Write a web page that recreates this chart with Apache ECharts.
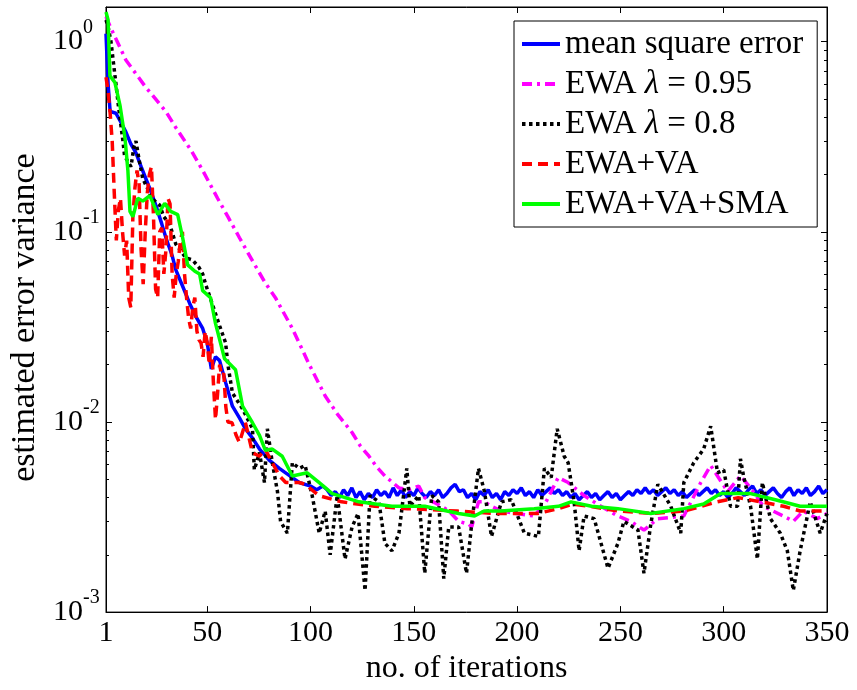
<!DOCTYPE html>
<html><head><meta charset="utf-8">
<script src="https://cdn.jsdelivr.net/npm/echarts@6/dist/echarts.min.js"></script>
<style>html,body{margin:0;padding:0;background:#fff}#c{width:857px;height:690px}</style>
</head><body><div id="c"></div>
<script>
const seriesNames = ['mean square error', 'EWA λ = 0.95', 'EWA λ = 0.8', 'EWA+VA', 'EWA+VA+SMA'];
const xTicks = [1, 50, 100, 150, 200, 250, 300, 350];
const yMajor = [0.001, 0.01, 0.1, 1];
const yMinor = [0.002,0.003,0.004,0.005,0.006,0.007,0.008,0.009,
                0.02,0.03,0.04,0.05,0.06,0.07,0.08,0.09,
                0.2,0.3,0.4,0.5,0.6,0.7,0.8,0.9];

const mse = [[1,1.1],[2,0.6],[3,0.43],[5.8,0.42],[8,0.38],[10.6,0.335],[13,0.29],[15.5,0.26],[18,0.22],[20.3,0.19],[23,0.16],[25.1,0.138],[28,0.11],[30,0.093],[33,0.075],[34.8,0.063],[38,0.052],[41.5,0.042],[45,0.035],[47.8,0.031],[50,0.026],[52,0.019],[54,0.022],[56,0.021],[59,0.016],[62.2,0.0121],[65.6,0.0105],[68.5,0.0092],[72,0.0082],[75.3,0.0072],[80,0.0063],[84.9,0.0057],[90,0.0052],[94.5,0.0048],[100,0.0046],[103,0.0044],[106,0.0046],
[108,0.0044],[110,0.0041],[112,0.0043],[114,0.0040],[116,0.0044],[118,0.0041],[120,0.0045],[122,0.0040],[124,0.0043],[126,0.0039],[128,0.0042],[130,0.0040],[132,0.0044],[134,0.0041],[136,0.0043],[138,0.0040],[140,0.0045],[142,0.0041],[144,0.0044],[146,0.0040],[148,0.0043],[150,0.0041],[152,0.0045],[154,0.0042],[156,0.0040],[158,0.0043],[160,0.0041],[162,0.0044],[164,0.0040],[166,0.0042],[168,0.0045],[170,0.0047],[172,0.0043],[174,0.0044],[176,0.0040],[178,0.0042],[180,0.0039],[182,0.0043],[184,0.0041],[186,0.0044],[188,0.0040],[190,0.0042],[192,0.0039],[194,0.0043],[196,0.0041],[198,0.0044],[200,0.0042],[202,0.0045],[204,0.0041],[206,0.0043],[208,0.0040],[210,0.0044],[212,0.0041],[214,0.0043],[216,0.0045],[218,0.0042],[220,0.0044],[222,0.0041],[224,0.0043],[226,0.0040],[228,0.0042],[230,0.0039],[232,0.0041],[234,0.0043],[236,0.0040],[238,0.0042],[240,0.0039],[242,0.0041],[244,0.0043],[246,0.0040],[248,0.0042],[250,0.0039],[252,0.0041],[254,0.0043],[256,0.0041],[258,0.0044],[260,0.0042],[262,0.0045],[264,0.0042],[266,0.0044],[268,0.0041],[270,0.0043],[272,0.0045],[274,0.0042],[276,0.0044],[278,0.0041],[280,0.0043],[282,0.0040],[284,0.0042],[286,0.0044],[288,0.0041],[290,0.0043],[292,0.0045],[294,0.0042],[296,0.0044],[298,0.0041],[300,0.0043],[302,0.0040],[304,0.0042],[306,0.0045],[308,0.0043],[310,0.0041],[312,0.0044],[314,0.0046],[316,0.0042],[318,0.0044],[320,0.0041],[322,0.0043],[324,0.0045],[326,0.0042],[328,0.0040],[330,0.0043],[332,0.0045],[334,0.0041],[336,0.0044],[338,0.0042],[340,0.0045],[342,0.0041],[344,0.0043],[346,0.0046],[348,0.0042],[350,0.0044]];

const ewa095 = [[1,1.35],[3,1.2],[10.6,0.8],[20,0.58],[29.9,0.43],[35,0.35],[42,0.27],[47.8,0.21],[55,0.15],[60,0.12],[65.6,0.093],[72,0.07],[78,0.054],[83,0.045],[91.2,0.031],[99.4,0.02],[107.1,0.0137],[113,0.011],[120.1,0.0088],[124,0.0075],[128.3,0.0066],[132,0.0058],[136,0.0052],[142.8,0.0045],[147.6,0.0044],[152.4,0.0046],[155.3,0.004],[163.5,0.0036],[167,0.0034],[171.7,0.003],[176.5,0.0029],[178,0.0028],[181.3,0.0038],[184.2,0.0038],[187.6,0.0036],[192.4,0.0034],[200,0.0033],[208.3,0.0032],[214,0.0038],[219.9,0.0051],[224.7,0.0048],[232.4,0.0041],[240.6,0.0036],[248.8,0.0032],[255,0.003],[261.4,0.0027],[268.1,0.0031],[280.7,0.0032],[288.9,0.0048],[293.7,0.0059],[297,0.0052],[301.9,0.0043],[308.1,0.0052],[313,0.0045],[319.2,0.0036],[328.9,0.0032],[333.7,0.003],[338.5,0.0034],[345.3,0.0031],[350,0.0033]];

const ewa08 = [[1,1.3],[2,1.2],[3.4,1.0],[4,0.88],[5.8,0.6],[7,0.46],[9.2,0.3],[10,0.25],[13.1,0.22],[14.5,0.28],[15.5,0.3],[17,0.24],[18.8,0.19],[21,0.17],[23,0.15],[27,0.138],[29,0.12],[31.9,0.109],[34.8,0.086],[37,0.08],[39.6,0.073],[42.9,0.071],[46,0.065],[47.8,0.06],[49.2,0.053],[53,0.04],[56,0.032],[57.4,0.029],[58.9,0.026],[60,0.02],[62.2,0.0142],[67.1,0.0117],[71.9,0.0092],[72.8,0.0056],[75.3,0.0069],[77.7,0.0048],[79.1,0.0092],[81.5,0.0061],[84,0.0043],[85.5,0.003],[88.8,0.0026],[91.2,0.0061],[94.5,0.0057],[97.4,0.0059],[100.8,0.0041],[104.2,0.0026],[107.1,0.0034],[109.5,0.002],[112.9,0.0041],[116.7,0.0019],[120.1,0.0028],[123,0.0033],[126.4,0.0013],[128.8,0.0041],[133.1,0.0038],[136,0.0023],[139.4,0.0021],[142.8,0.0026],[146.6,0.0057],[148.1,0.0036],[152.4,0.0041],[155.3,0.0016],[158.7,0.0041],[162,0.0038],[164.5,0.0015],[166.9,0.0028],[171.7,0.0028],[175.5,0.0016],[178,0.0029],[181.3,0.0057],[184.2,0.0043],[187.6,0.0025],[192.4,0.0038],[197.2,0.0039],[203.5,0.0026],[210.3,0.0025],[213.2,0.0057],[216.5,0.0051],[219.4,0.0092],[222.8,0.0066],[224.7,0.0061],[227.6,0.0038],[230,0.0021],[232.4,0.0032],[237.3,0.0031],[244,0.0017],[248.8,0.0023],[251.7,0.003],[258.5,0.0027],[261.4,0.0016],[264.7,0.0029],[268.1,0.0047],[274.4,0.0036],[279.2,0.0026],[280.7,0.0048],[285.5,0.0061],[290.3,0.0072],[293.7,0.0095],[297,0.0054],[300,0.0056],[303.3,0.0036],[306.7,0.0036],[308.1,0.0064],[309.6,0.0052],[313,0.0036],[316.3,0.0019],[318.7,0.0048],[322.6,0.0031],[327.4,0.0026],[330.8,0.0021],[333.7,0.0013],[337,0.0021],[341.9,0.0038],[346.7,0.0026],[350,0.0033]];

const ewaVa = [[1,0.65],[2,0.55],[3,0.42],[4,0.30],[5,0.16],[6,0.09],[7,0.13],[8,0.15],[9,0.10],[10,0.075],[11,0.09],[12,0.045],[13,0.04],[14,0.12],[15,0.17],[16,0.21],[17,0.18],[18,0.08],[19,0.053],[20,0.1],[21,0.16],[22,0.2],[23,0.22],[24,0.12],[25,0.05],[26,0.045],[27,0.1],[28,0.105],[29,0.06],[30,0.08],[31,0.15],[32,0.14],[33,0.06],[34,0.045],[35,0.06],[36,0.07],[37,0.09],[38,0.1],[39,0.06],[40,0.045],[41,0.035],[42,0.031],[43,0.04],[44,0.045],[45,0.03],[46,0.027],[47,0.026],[48,0.022],[49,0.03],[50,0.026],[51,0.02],[52,0.028],[53,0.016],[54,0.0103],[55,0.014],[56,0.02],[57,0.0175],[58,0.018],[59,0.012],[60,0.01],[62,0.0099],[64,0.0085],[65.6,0.0078],[68.5,0.0099],[71.9,0.0069],[75.3,0.0066],[78,0.0072],[81.5,0.0061],[85,0.0052],[88,0.0048],[94.5,0.0048],[97.4,0.0047],[104,0.0041],[115,0.0038],[131,0.0036],[147,0.0035],[171,0.0034],[190,0.0033],[210,0.0033],[220,0.0035],[227,0.0037],[235,0.0036],[249,0.0034],[265,0.0033],[281,0.0034],[297,0.0038],[307,0.0040],[318,0.0038],[329,0.0036],[337,0.0034],[350,0.0034]];

const ewaVaSma = [[1,1.43],[2,1.3],[2.9,0.66],[5.3,0.61],[7.8,0.46],[10.2,0.31],[11.6,0.21],[12.6,0.128],[14,0.12],[16.4,0.15],[18.8,0.145],[22.2,0.155],[26.1,0.123],[29.4,0.141],[32.3,0.128],[35.7,0.123],[38.1,0.093],[40.5,0.067],[44,0.062],[46.3,0.06],[47.8,0.049],[51.6,0.045],[54,0.033],[58.4,0.0215],[63.7,0.0188],[67.1,0.0121],[71.9,0.0099],[75.3,0.0085],[78.1,0.0071],[81.5,0.0072],[86.3,0.0066],[91.2,0.0052],[98.4,0.0054],[104.2,0.0048],[110.5,0.0042],[123.5,0.0038],[139.4,0.0036],[155.3,0.0036],[171.7,0.0033],[179.4,0.0032],[184,0.0034],[192,0.0034],[208.3,0.0035],[220,0.0036],[226.1,0.0038],[236,0.0036],[248.8,0.0035],[264.7,0.0033],[280.7,0.0035],[290.3,0.0037],[298.5,0.0042],[313,0.0042],[325,0.0039],[337,0.0036],[350,0.0036]];

const FONT = 'Liberation Serif';
const chart = echarts.init(document.getElementById('c'));

function lineSeries(name, data, color, type, width, z) {
  return {
    name: name, type: 'line', data: data, symbol: 'none', showSymbol: false,
    xAxisIndex: 0, yAxisIndex: 0, z: z, animation: false,
    lineStyle: { color: color, width: width, type: type, cap: 'butt' },
    itemStyle: { color: color }
  };
}

const commonY = { type: 'log', logBase: 10, min: 0.001, max: 1.52, splitLine: { show: false }, minorTick: { show: false } };

chart.setOption({
  backgroundColor: '#fff',
  animation: false,
  grid: { left: 103, right: 30, top: 7, bottom: 72, show: true, borderColor: '#000', borderWidth: 1, backgroundColor: '#fff' },
  legend: {
    orient: 'vertical', left: 514, top: 21,
    data: seriesNames,
    itemWidth: 38, itemHeight: 12, itemGap: 4,
    padding: [5, 14, 5, 6],
    backgroundColor: '#fff', borderColor: '#000', borderWidth: 1,
    itemStyle: { opacity: 0, color: 'rgba(0,0,0,0)', borderWidth: 0 },
    lineStyle: { width: 4 },
    textStyle: { fontFamily: FONT, fontSize: 33, color: '#000', lineHeight: 36,
      rich: { i: { fontFamily: FONT, fontSize: 33, fontStyle: 'italic', color: '#000', lineHeight: 36 } } },
    formatter: function (n) { return n.replace('λ', '{i|λ}'); }
  },
  xAxis: [
    { type: 'value', min: 1, max: 350, position: 'bottom',
      axisLine: { onZero: false, lineStyle: { color: '#000', width: 1 } },
      axisTick: { inside: true, length: 6, customValues: xTicks, lineStyle: { color: '#000' } },
      axisLabel: { customValues: xTicks, fontFamily: FONT, fontSize: 30, color: '#000', margin: 6 },
      splitLine: { show: false },
      name: 'no. of iterations', nameLocation: 'middle', nameGap: 36,
      nameTextStyle: { fontFamily: FONT, fontSize: 32, color: '#000' } },
    { type: 'value', min: 1, max: 350, position: 'top',
      axisLine: { onZero: false, lineStyle: { color: '#000', width: 1 } },
      axisTick: { inside: true, length: 6, customValues: xTicks, lineStyle: { color: '#000' } },
      axisLabel: { show: false }, splitLine: { show: false } }
  ],
  yAxis: [
    Object.assign({}, commonY, { position: 'left',
      axisLine: { onZero: false, lineStyle: { color: '#000', width: 1 } },
      axisTick: { inside: true, length: 6, customValues: yMajor, lineStyle: { color: '#000' } },
      axisLabel: { customValues: yMajor, align: 'left', margin: 53, color: '#000',
        formatter: function (v) { const e = Math.round(Math.log10(v)); return '{b|10}{s|' + e + '}'; },
        rich: { b: { fontFamily: FONT, fontSize: 30, color: '#000', verticalAlign: 'middle' },
                s: { fontFamily: FONT, fontSize: 20, color: '#000', verticalAlign: 'middle', padding: [0, 0, 28, 0] } } },
      name: 'estimated error variance', nameLocation: 'middle', nameGap: 64,
      nameTextStyle: { fontFamily: FONT, fontSize: 34, color: '#000', padding: [0, 16, 0, 0] } }),
    Object.assign({}, commonY, { position: 'left',
      axisLine: { show: false },
      axisTick: { inside: true, length: 3, customValues: yMinor, lineStyle: { color: '#000' } },
      axisLabel: { show: false } }),
    Object.assign({}, commonY, { position: 'right',
      axisLine: { onZero: false, lineStyle: { color: '#000', width: 1 } },
      axisTick: { inside: true, length: 6, customValues: yMajor, lineStyle: { color: '#000' } },
      axisLabel: { show: false } }),
    Object.assign({}, commonY, { position: 'right',
      axisLine: { show: false },
      axisTick: { inside: true, length: 3, customValues: yMinor, lineStyle: { color: '#000' } },
      axisLabel: { show: false } })
  ],
  series: [
    lineSeries(seriesNames[0], mse, '#0000ff', 'solid', 3.5, 2),
    lineSeries(seriesNames[1], ewa095, '#ff00ff', [10, 5, 3, 5], 3.5, 3),
    lineSeries(seriesNames[2], ewa08, '#000000', [3.5, 3.5], 3.5, 4),
    lineSeries(seriesNames[3], ewaVa, '#ff0000', [10, 6], 3.5, 5),
    lineSeries(seriesNames[4], ewaVaSma, '#00ff00', 'solid', 3.5, 6)
  ]
});
</script></body></html>
